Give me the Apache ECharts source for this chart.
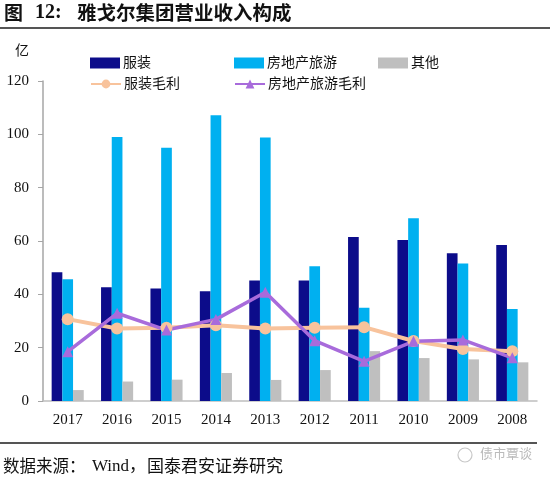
<!DOCTYPE html>
<html><head><meta charset="utf-8">
<script src="https://cdn.jsdelivr.net/npm/echarts@6/dist/echarts.min.js"></script>
<style>html,body{margin:0;padding:0;background:#fff}#c{width:550px;height:481px}</style>
</head><body><div id="c"></div>
<script>
const categories = ['2017','2016','2015','2014','2013','2012','2011','2010','2009','2008'];
const apparel = [48.3, 42.7, 42.2, 41.2, 45.2, 45.2, 61.5, 60.4, 55.4, 58.5];
const realEstate = [45.7, 99.0, 95.0, 107.2, 98.8, 50.5, 35.0, 68.5, 51.6, 34.5];
const others = [4.1, 7.3, 8.0, 10.5, 7.9, 11.6, 18.7, 16.1, 15.6, 14.5];
const apparelMargin = [30.7, 27.2, 27.5, 28.4, 27.2, 27.5, 27.7, 22.5, 19.5, 18.7];
const realEstateMargin = [18.5, 32.9, 26.6, 30.6, 40.8, 22.6, 14.9, 22.4, 22.9, 16.2];
const yTicks = [0, 20, 40, 60, 80, 100, 120];

const serif = '"Liberation Serif","Noto Sans CJK SC",serif';
const cjk = '"Noto Sans CJK SC",sans-serif';
const chart = echarts.init(document.getElementById('c'));
const C_APP = '#0C0C8A', C_RE = '#00B0F0', C_OT = '#BFBFBF', C_AM = '#F8C39C', C_RM = '#A86BDB';
function lg(name, left, top, icon) {
  return { data: [name], left: left, top: top, itemWidth: 30, itemHeight: 11, itemGap: 0,
    icon: icon, textStyle: { fontFamily: serif, fontSize: 14, color: '#111', padding: [0,0,0,-2] }, padding: 0 };
}
chart.setOption({
  animation: false,
  backgroundColor: '#fff',
  grid: { left: 43, right: 13, top: 81, bottom: 80, containLabel: false },
  legend: [
    lg('服装', 90, 56, 'rect'),
    lg('房地产旅游', 234, 56, 'rect'),
    lg('其他', 378, 56, 'rect'),
    lg('服装毛利', 90, 77),
    lg('房地产旅游毛利', 234, 77)
  ],
  xAxis: {
    type: 'category', data: categories,
    axisLine: { lineStyle: { color: '#BFBFBF', width: 1.5 } },
    axisTick: { show: false },
    axisLabel: { fontFamily: serif, fontSize: 15, color: '#111', margin: 12 }
  },
  yAxis: {
    type: 'value', min: 0, max: 120, interval: 20,
    axisLine: { show: true, lineStyle: { color: '#A6A6A6', width: 1.5 } },
    axisTick: { show: true, length: 5, lineStyle: { color: '#A6A6A6' } },
    splitLine: { show: false },
    axisLabel: { fontFamily: serif, fontSize: 15, color: '#111', margin: 14,
      formatter: v => yTicks.includes(v) ? String(v) : '' }
  },
  series: [
    { name: '服装', type: 'bar', data: apparel, barWidth: 10.7, barGap: '0%', itemStyle: { color: C_APP } },
    { name: '房地产旅游', type: 'bar', data: realEstate, barWidth: 10.7, barGap: '0%', itemStyle: { color: C_RE } },
    { name: '其他', type: 'bar', data: others, barWidth: 10.7, barGap: '0%', itemStyle: { color: C_OT } },
    { name: '服装毛利', type: 'line', data: apparelMargin, symbol: 'circle', symbolSize: 12,
      lineStyle: { color: C_AM, width: 4 }, itemStyle: { color: C_AM } },
    { name: '房地产旅游毛利', type: 'line', data: realEstateMargin, symbol: 'triangle', symbolSize: 11,
      lineStyle: { color: C_RM, width: 3.5 }, itemStyle: { color: C_RM } }
  ],
  graphic: [
    { type: 'text', left: 4, top: 3, style: { text: '图', fontFamily: cjk, fontWeight: 'bold', fontSize: 19, fill: '#111' } },
    { type: 'text', left: 35, top: 3, style: { text: '12:', fontFamily: serif, fontWeight: 'bold', fontSize: 20, fill: '#111' } },
    { type: 'text', left: 77, top: 3, style: { text: '雅戈尔集团营业收入构成', fontFamily: cjk, fontWeight: 'bold', fontSize: 19.5, fill: '#111' } },
    { type: 'rect', shape: { x: 0, y: 27, width: 550, height: 2 }, style: { fill: '#555' } },
    { type: 'rect', shape: { x: 0, y: 442, width: 537, height: 2 }, style: { fill: '#555' } },
    { type: 'text', left: 3, top: 457, style: { text: '数据来源：', fontFamily: cjk, fontSize: 16.5, fill: '#111' } },
    { type: 'text', left: 92, top: 458, style: { text: 'Wind，', fontFamily: serif, fontSize: 17, fill: '#111' } },
    { type: 'text', left: 147, top: 457, style: { text: '国泰君安证券研究', fontFamily: cjk, fontSize: 17, fill: '#111' } },
    { type: 'circle', shape: { cx: 465, cy: 455, r: 7 }, style: { fill: 'none', stroke: '#C8C8C8', lineWidth: 1.2 } },
    { type: 'text', left: 480, top: 447, style: { text: '债市覃谈', fontFamily: cjk, fontSize: 13, fill: '#BBBBBB' } },
    { type: 'text', left: 15, top: 43, style: { text: '亿', fontFamily: cjk, fontSize: 14, fill: '#111' } }
  ]
});
</script></body></html>
